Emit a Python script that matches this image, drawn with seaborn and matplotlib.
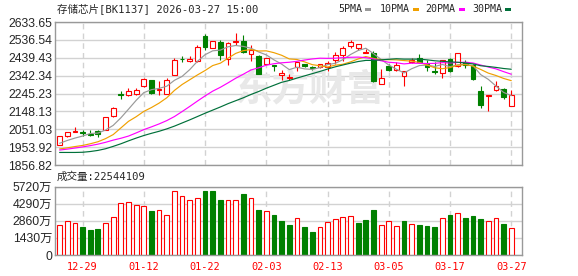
import matplotlib
matplotlib.use("Agg")
import matplotlib.pyplot as plt
from matplotlib.patches import Rectangle
import seaborn as sns
import numpy as np
import pandas as pd

# ---------------- data ----------------
dates = ["12-24", "12-25", "12-26", "12-29", "12-30", "12-31",
         "01-05", "01-06", "01-07", "01-08", "01-09",
         "01-12", "01-13", "01-14", "01-15", "01-16",
         "01-19", "01-20", "01-21", "01-22", "01-23",
         "01-26", "01-27", "01-28", "01-29", "01-30",
         "02-02", "02-03", "02-04", "02-05", "02-06",
         "02-09", "02-10", "02-11", "02-12", "02-13",
         "02-24", "02-25", "02-26", "02-27",
         "03-02", "03-03", "03-04", "03-05", "03-06",
         "03-09", "03-10", "03-11", "03-12", "03-13",
         "03-16", "03-17", "03-18", "03-19", "03-20",
         "03-23", "03-24", "03-25", "03-26", "03-27"]
tick_labels = ["12-29", "01-12", "01-22", "02-03", "02-13", "03-05", "03-17", "03-27"]

opens = [1967, 2013, 2035, 2038, 2025, 2040, 2049, 2121, 2241, 2236,
         2244, 2284, 2317, 2263, 2243, 2347, 2435, 2420, 2420, 2556,
         2492, 2523, 2434, 2525, 2529, 2461, 2451, 2407, 2401, 2347,
         2329, 2388, 2405, 2387, 2388, 2389, 2429, 2456, 2502, 2492,
         2467, 2465, 2298, 2393, 2372, 2339, 2415, 2436, 2408, 2365,
         2357, 2433, 2393, 2415, 2402, 2260, 2230, 2263, 2270, 2179]
highs = [2015, 2036, 2063, 2049, 2047, 2047, 2119, 2170, 2257, 2274,
         2274, 2330, 2319, 2315, 2327, 2436, 2447, 2450, 2510, 2568,
         2533, 2536, 2525, 2574, 2565, 2510, 2455, 2440, 2402, 2375,
         2351, 2417, 2407, 2396, 2407, 2423, 2472, 2504, 2537, 2516,
         2485, 2475, 2379, 2407, 2416, 2368, 2440, 2458, 2428, 2418,
         2425, 2436, 2465, 2426, 2404, 2284, 2236, 2314, 2277, 2264]
lows = [1965, 2011, 2034, 2012, 2016, 2007, 2047, 2119, 2217, 2234,
        2236, 2282, 2244, 2236, 2241, 2345, 2415, 2415, 2418, 2480,
        2490, 2429, 2402, 2507, 2465, 2420, 2350, 2405, 2366, 2320,
        2320, 2370, 2391, 2375, 2386, 2370, 2407, 2423, 2491, 2480,
        2466, 2308, 2296, 2367, 2370, 2288, 2409, 2409, 2365, 2350,
        2330, 2364, 2390, 2384, 2318, 2165, 2152, 2261, 2218, 2176]
closes = [2013, 2034, 2040, 2031, 2021, 2025, 2116, 2165, 2236, 2257,
          2266, 2324, 2248, 2269, 2317, 2425, 2430, 2432, 2496, 2496,
          2529, 2453, 2520, 2532, 2469, 2483, 2353, 2438, 2396, 2356,
          2334, 2415, 2393, 2384, 2405, 2411, 2453, 2492, 2525, 2514,
          2470, 2311, 2329, 2375, 2402, 2366, 2429, 2415, 2388, 2360,
          2425, 2366, 2465, 2402, 2324, 2184, 2235, 2284, 2226, 2239]

ma5 = [1975, 1990, 2003, 2014, 2028, 2030, 2047, 2072, 2113, 2160,
       2208, 2250, 2266, 2273, 2285, 2317, 2338, 2375, 2420, 2456,
       2477, 2481, 2499, 2506, 2501, 2491, 2471, 2455, 2428, 2405,
       2375, 2388, 2379, 2376, 2386, 2402, 2409, 2429, 2457, 2479,
       2491, 2462, 2430, 2400, 2377, 2357, 2380, 2397, 2400, 2392,
       2403, 2391, 2401, 2404, 2396, 2348, 2322, 2286, 2251, 2234]
ma10 = [1944, 1950, 1957, 1963, 1972, 1983, 2000, 2022, 2058, 2094,
        2119, 2148, 2169, 2193, 2222, 2262, 2294, 2320, 2346, 2370,
        2397, 2410, 2437, 2463, 2478, 2484, 2476, 2477, 2467, 2453,
        2433, 2430, 2417, 2402, 2396, 2389, 2399, 2404, 2417, 2433,
        2446, 2436, 2429, 2429, 2428, 2424, 2421, 2414, 2400, 2385,
        2380, 2386, 2399, 2402, 2394, 2376, 2356, 2343, 2327, 2315]
ma20 = [1938, 1943, 1949, 1955, 1962, 1970, 1980, 1992, 2002, 2014,
        2031, 2049, 2064, 2080, 2098, 2120, 2147, 2175, 2204, 2232,
        2258, 2279, 2303, 2328, 2350, 2373, 2385, 2399, 2407, 2412,
        2415, 2420, 2427, 2433, 2437, 2436, 2437, 2440, 2442, 2443,
        2440, 2433, 2423, 2415, 2412, 2406, 2410, 2409, 2408, 2409,
        2413, 2411, 2414, 2415, 2411, 2400, 2389, 2379, 2364, 2350]
ma30 = [1925, 1925, 1925, 1926, 1930, 1936, 1945, 1958, 1972, 1988,
        2003, 2017, 2029, 2040, 2053, 2068, 2085, 2102, 2120, 2138,
        2155, 2172, 2190, 2206, 2222, 2240, 2256, 2274, 2290, 2306,
        2316, 2329, 2341, 2353, 2365, 2378, 2390, 2400, 2410, 2419,
        2425, 2425, 2428, 2431, 2434, 2432, 2432, 2432, 2428, 2423,
        2420, 2417, 2415, 2411, 2406, 2396, 2392, 2387, 2381, 2377]

# volume in 万
volumes = [2511, 2818, 2678, 2316, 2093, 2176, 2678, 3153, 4325, 4408,
           4185, 4101, 3683, 3767, 3348, 5357, 4938, 4604, 4743, 5357,
           5357, 4604, 4604, 4604, 5106, 4743, 3767, 3683, 3348, 2846,
           2511, 3069, 2372, 1953, 2316, 2762, 2985, 3153, 3236, 2706,
           2930, 3767, 2483, 2818, 2399, 2846, 2595, 2511, 2427, 2344,
           3069, 3348, 3488, 3097, 3264, 3013, 2818, 3069, 2595, 2254]
vol_up = [1, 1, 1, 0, 0, 0, 1, 1, 1, 1, 1, 1, 0, 1, 1, 1, 1, 1, 1, 0,
          0, 0, 1, 1, 0, 1, 0, 1, 0, 0, 0, 1, 0, 0, 1, 1, 1, 1, 1, 0,
          0, 0, 1, 1, 1, 0, 1, 0, 0, 0, 1, 0, 1, 0, 0, 0, 1, 1, 0, 1]

price_ticks = [1856.82, 1953.92, 2051.03, 2148.13, 2245.23, 2342.34, 2439.43, 2536.54, 2633.65]
vol_ticks = [0, 1430, 2860, 4290, 5720]
vol_tick_labels = ["0", "1430万", "2860万", "4290万", "5720万"]

title = "存储芯片[BK1137] 2026-03-27 15:00"
vol_title = "成交量:22544109"
ma_names = ["5PMA", "10PMA", "20PMA", "30PMA"]

# ---------------- styling ----------------
RED = "#ff0000"
GREEN = "#008000"
MA_COLORS = ["#999999", "#f0a000", "#ff00ff", "#00703a"]
GRID = "#d2d2d2"
SPINE = "#999999"
MIXED = ["DejaVu Sans Mono", "Noto Sans CJK SC"]
NUMF = ["Liberation Sans", "Noto Sans CJK SC"]
LW = 0.8

sns.set_style("white")
plt.rcParams["font.family"] = ["DejaVu Sans", "Noto Sans CJK SC"]

W, H = 578, 276
fig = plt.figure(figsize=(W / 100, H / 100), dpi=100)


def rect(l, t, r, b):
    return [l / W, 1 - b / H, (r - l) / W, (b - t) / H]


ax = fig.add_axes(rect(55, 22, 522, 165))
axv = fig.add_axes(rect(55, 186.5, 522, 255))

n = len(closes)
x = np.arange(n)
o = np.array(opens, float)
c = np.array(closes, float)
h = np.array(highs, float)
lo = np.array(lows, float)
up = c >= o
tick_pos = [dates.index(t) for t in tick_labels]

# ---------------- price panel ----------------
top = np.maximum(o, c)
bot = np.minimum(o, c)
body_w = 0.62
for mask, col in ((up, RED), (~up, GREEN)):
    ax.vlines(x[mask], top[mask], h[mask], color=col, linewidth=LW, zorder=2)
    ax.vlines(x[mask], lo[mask], bot[mask], color=col, linewidth=LW, zorder=2)
heights = np.maximum(top - bot, 2.0)
ax.bar(x, heights, bottom=bot, width=body_w,
       color=np.where(up, "white", GREEN), edgecolor=np.where(up, RED, GREEN),
       linewidth=LW, zorder=2)

for vals, col in zip([ma5, ma10, ma20, ma30], MA_COLORS):
    sns.lineplot(x=x, y=vals, ax=ax, color=col, linewidth=0.85, zorder=4)

ax.text((310 - 55) / 467, 1 - (90 - 22) / 143, "东方财富", transform=ax.transAxes,
        ha="center", va="center", fontsize=27, fontweight="bold", color="#e8e8e8",
        family=["Noto Sans CJK SC"], zorder=1)

ax.set_xlim(-0.6, 60.4)
ax.set_ylim(price_ticks[0], price_ticks[-1])
ax.set_yticks(price_ticks)
ax.set_yticklabels([f"{v:.2f}" for v in price_ticks], family=NUMF, fontsize=8.8)
ax.set_xticks(tick_pos)
ax.set_xticklabels([])
ax.set_axisbelow(True)
ax.grid(axis="y", color=GRID, linewidth=1.0, linestyle="-")
ax.grid(axis="x", color=GRID, linewidth=1.0, linestyle=(0, (4, 3)))
ax.tick_params(length=0, pad=2)
ax.set_xlabel("")
ax.set_ylabel("")

# ---------------- volume panel ----------------
df = pd.DataFrame({"x": x, "vol": volumes,
                   "dir": np.where(np.array(vol_up) == 1, "up", "down")})
sns.barplot(data=df, x="x", y="vol", hue="dir", palette={"up": RED, "down": GREEN},
            dodge=False, native_scale=True, width=body_w, errorbar=None,
            legend=False, saturation=1, orient="x", ax=axv, zorder=2)
for p in axv.patches:
    fc = p.get_facecolor()
    if fc[0] > 0.9 and fc[1] < 0.2:
        p.set_facecolor("white")
        p.set_edgecolor(RED)
        p.set_linewidth(LW)
    else:
        p.set_edgecolor(GREEN)
        p.set_linewidth(LW)

axv.set_xlim(-0.6, 60.4)
axv.set_ylim(0, 5720)
axv.set_yticks(vol_ticks)
axv.set_yticklabels(vol_tick_labels, family=NUMF, fontsize=8.8)
axv.set_xticks(tick_pos)
axv.set_xticklabels(tick_labels, family=["DejaVu Sans Mono"], fontsize=7.4, color=RED)
axv.set_axisbelow(True)
axv.grid(axis="y", color=GRID, linewidth=1.0, linestyle="-")
axv.grid(axis="x", color=GRID, linewidth=1.0, linestyle=(0, (4, 3)))
axv.tick_params(axis="y", length=0, pad=2)
axv.tick_params(axis="x", length=0, pad=5)
axv.set_xlabel("")
axv.set_ylabel("")

for a in (ax, axv):
    for s in a.spines.values():
        s.set_visible(True)
        s.set_color(SPINE)
        s.set_linewidth(1.0)

# ---------------- texts / legend ----------------
fig.text(57 / W, 1 - 10 / H, title, fontsize=7.6, family=MIXED, va="center", ha="left")
fig.text(57 / W, 1 - 177 / H, vol_title, fontsize=7.6, family=MIXED, va="center", ha="left")

leg_text_x = [338, 380, 425, 472]
leg_sq_x = [365, 413, 459, 505]
for name, tx, sx, col in zip(ma_names, leg_text_x, leg_sq_x, MA_COLORS):
    fig.text(tx / W, 1 - 9 / H, name, fontsize=7.2, family=["DejaVu Sans Mono"],
             va="center", ha="left")
    fig.add_artist(Rectangle((sx / W, 1 - 11 / H), 6 / W, 3.5 / H,
                             transform=fig.transFigure, facecolor=col, edgecolor="none"))

fig.savefig("out.png", dpi=100)
